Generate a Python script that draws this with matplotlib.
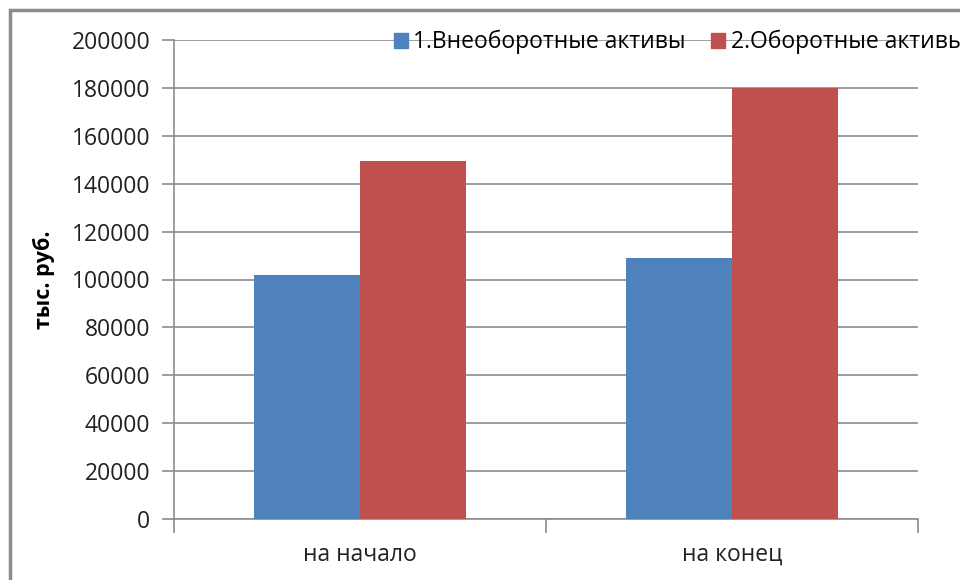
import matplotlib
matplotlib.use("Agg")
import matplotlib.pyplot as plt
from matplotlib.patches import Rectangle, Patch
import numpy as np

categories = ["на начало", "на конец"]
series_names = ["1.Внеоборотные активы", "2.Оборотные активы"]
non_current = [101800, 109100]
current = [149300, 180000]
yticks = [0, 20000, 40000, 60000, 80000, 100000, 120000, 140000, 160000, 180000, 200000]

blue = "#4F81BD"
red = "#C0504D"
gray = "#8C8C8C"

plt.rcParams['font.family'] = ['Open Sans', 'DejaVu Sans']

W, H = 960, 580
fig = plt.figure(figsize=(W / 100, H / 100), dpi=100)
x0, x1, y0, y1 = 174, 918, 40, 519
ax = fig.add_axes([x0 / W, 1 - y1 / H, (x1 - x0) / W, (y1 - y0) / H])

x = np.arange(len(categories))
bw = 0.286
ax.bar(x - bw / 2, non_current, bw, color=blue, zorder=3, label=series_names[0])
ax.bar(x + bw / 2, current, bw, color=red, zorder=3, label=series_names[1])

ax.set_xlim(-0.5, len(categories) - 0.5)
ax.set_ylim(0, 200000)
ax.set_yticks(yticks)
ax.set_yticklabels([str(v) for v in yticks], fontsize=16.5, color="#222222")
ax.yaxis.grid(True, color=gray, linewidth=1.2, zorder=0)
ax.set_axisbelow(True)

ax.set_xticks(x)
ax.set_xticklabels(categories, fontsize=16.5, color="#222222")
ax.tick_params(axis='x', which='major', length=0, pad=17)
ax.set_xticks([-0.5, 0.5, 1.5], minor=True)
ax.tick_params(axis='x', which='minor', length=10, width=1.2, color=gray, direction='out')
ax.tick_params(axis='y', length=9, width=1.2, color=gray, pad=8, direction='out')

for s in ['top', 'right']:
    ax.spines[s].set_visible(False)
for s in ['left', 'bottom']:
    ax.spines[s].set_color(gray)
    ax.spines[s].set_linewidth(1.2)

ax.set_ylabel("тыс. руб.", fontsize=15.5, fontweight='bold', labelpad=12)

handles = [Patch(color=blue), Patch(color=red)]
fig.legend(handles, series_names, loc='upper left', bbox_to_anchor=(394 / W, 1 - 30 / H),
           ncol=2, frameon=False, fontsize=16.5, handlelength=0.6, handleheight=0.6,
           handletextpad=0.25, columnspacing=1.1, borderaxespad=0, borderpad=0)

fig.patches.append(Rectangle((10 / W, -0.1), 1.2, 1 - 10 / H + 0.1, transform=fig.transFigure,
                             fill=False, edgecolor=gray, linewidth=2.5))

fig.savefig("out.png", dpi=100)
